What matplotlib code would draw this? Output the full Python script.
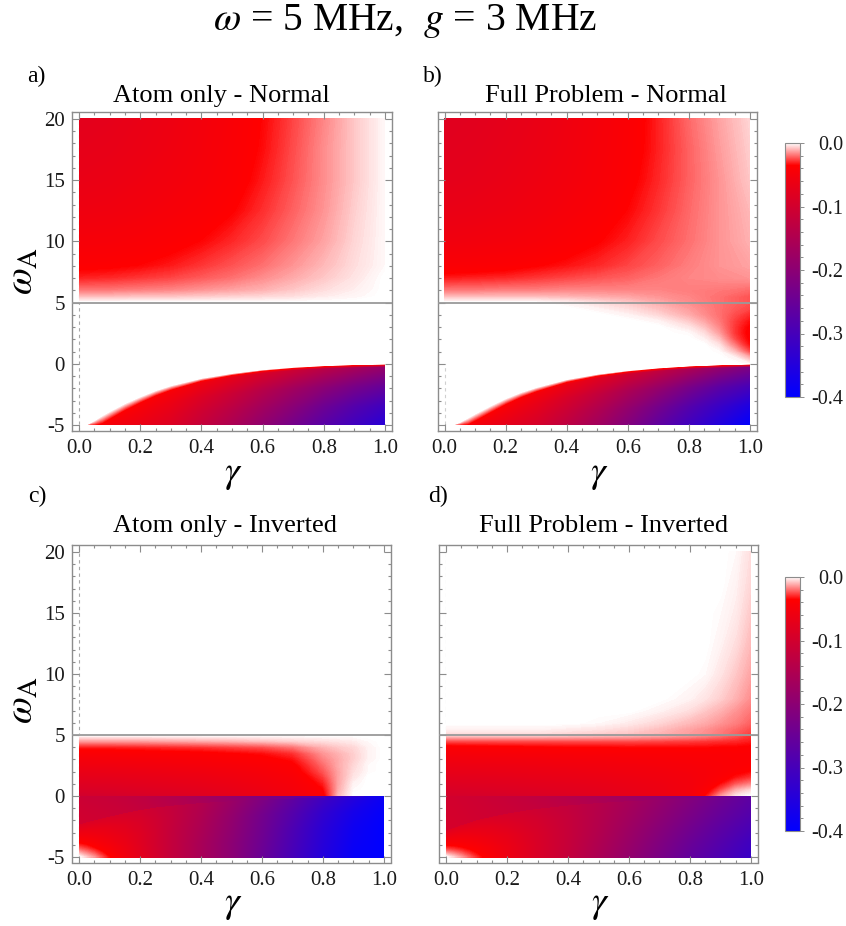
import numpy as np
import matplotlib
matplotlib.use("Agg")
import matplotlib.pyplot as plt
from matplotlib.colors import LinearSegmentedColormap, Normalize
from matplotlib.cm import ScalarMappable
from matplotlib.ticker import MultipleLocator, FormatStrFormatter

plt.rcParams["font.family"] = ["Liberation Serif", "DejaVu Serif"]
plt.rcParams["mathtext.fontset"] = "stix"
plt.rcParams["axes.unicode_minus"] = False

# ---------------------------------------------------------------- data
# sampling grids (gamma across, omega_A up)
GAMMA = [0.0, 0.1, 0.2, 0.3, 0.4, 0.5, 0.6, 0.7, 0.8, 0.9, 1.0]
GAMMA_FINE = [0.0, 0.1, 0.2, 0.3, 0.4, 0.5, 0.6, 0.7, 0.8, 0.85, 0.9, 0.95, 1.0]
GAMMA_EDGE = [0.0, 0.025, 0.05, 0.075, 0.1, 0.15, 0.2, 0.25, 0.3, 0.4, 0.5, 0.6, 0.7, 0.8, 0.9, 1.0]
OMEGA_HIGH = [5.0, 5.5, 6.0, 7.0, 8.0, 10.0, 12.5, 15.0, 17.5, 20.0]
OMEGA_MID = [0.0, 0.5, 1.0, 1.5, 2.0, 2.5, 3.0, 3.5, 4.0, 4.5, 5.0]
OMEGA_MIN = -5.0

# a) atom only, normal ordering -- omega_A > omega  (rows follow OMEGA_HIGH, cols GAMMA)
A_HIGH = [
    [0.0, 0.0, 0.0, 0.0, 0.0, 0.0, 0.0, 0.0, 0.0, 0.0, 0.0],
    [-0.010, -0.010, -0.009, -0.009, -0.008, -0.007, -0.006, -0.005, -0.003, -0.0015, 0.0],
    [-0.019, -0.019, -0.018, -0.017, -0.015, -0.013, -0.011, -0.008, -0.005, -0.0025, 0.0],
    [-0.031, -0.030, -0.028, -0.026, -0.023, -0.020, -0.016, -0.012, -0.008, -0.004, 0.0],
    [-0.038, -0.037, -0.035, -0.032, -0.028, -0.024, -0.020, -0.015, -0.010, -0.005, -0.001],
    [-0.048, -0.046, -0.043, -0.039, -0.035, -0.030, -0.025, -0.019, -0.013, -0.006, -0.001],
    [-0.058, -0.056, -0.052, -0.047, -0.042, -0.036, -0.029, -0.022, -0.015, -0.007, -0.001],
    [-0.066, -0.063, -0.058, -0.053, -0.047, -0.040, -0.032, -0.024, -0.016, -0.008, -0.001],
    [-0.071, -0.068, -0.063, -0.057, -0.050, -0.042, -0.034, -0.025, -0.016, -0.008, -0.001],
    [-0.075, -0.072, -0.066, -0.060, -0.052, -0.044, -0.035, -0.026, -0.017, -0.008, -0.001],
]
# a) omega_A < 0: outer (white) and inner (full colour) rim of the lobe (cols GAMMA_EDGE)
A_OUTER = [-5.0, -4.95, -4.6, -4.2, -3.85, -3.2, -2.65, -2.15, -1.75, -1.15, -0.75, -0.45, -0.25, -0.12, -0.04, 0.0]
A_INNER = [-5.0, -5.0, -5.0, -4.85, -4.5, -3.8, -3.2, -2.65, -2.2, -1.5, -1.05, -0.72, -0.5, -0.36, -0.28, -0.22]
# values on the inner rim, 1/3 and 2/3 of the way down, and at omega_A = -5
A_LOW = [
    [-0.035, -0.035, -0.035, -0.036, -0.037, -0.038, -0.040, -0.042, -0.045, -0.055, -0.070, -0.090, -0.110, -0.135, -0.160, -0.185],
    [-0.035, -0.036, -0.037, -0.039, -0.042, -0.046, -0.050, -0.056, -0.062, -0.085, -0.110, -0.140, -0.170, -0.200, -0.230, -0.255],
    [-0.036, -0.037, -0.039, -0.042, -0.046, -0.052, -0.058, -0.066, -0.075, -0.105, -0.135, -0.170, -0.205, -0.245, -0.280, -0.310],
    [-0.037, -0.038, -0.041, -0.045, -0.050, -0.057, -0.065, -0.075, -0.085, -0.120, -0.155, -0.195, -0.235, -0.275, -0.310, -0.345],
]

# b) full problem, normal ordering
B_HIGH = [
    [0.0, 0.0, 0.0, 0.0, -0.002, -0.005, -0.008, -0.012, -0.016, -0.020, -0.024],
    [-0.010, -0.010, -0.010, -0.010, -0.011, -0.012, -0.013, -0.015, -0.017, -0.020, -0.024],
    [-0.019, -0.019, -0.018, -0.018, -0.017, -0.017, -0.017, -0.017, -0.018, -0.019, -0.021],
    [-0.032, -0.031, -0.030, -0.028, -0.026, -0.024, -0.022, -0.019, -0.017, -0.016, -0.015],
    [-0.042, -0.041, -0.039, -0.036, -0.033, -0.030, -0.026, -0.022, -0.018, -0.015, -0.013],
    [-0.056, -0.053, -0.050, -0.046, -0.041, -0.036, -0.031, -0.025, -0.020, -0.015, -0.011],
    [-0.066, -0.063, -0.059, -0.054, -0.048, -0.042, -0.035, -0.028, -0.021, -0.015, -0.010],
    [-0.073, -0.070, -0.065, -0.059, -0.053, -0.046, -0.038, -0.030, -0.022, -0.015, -0.008],
    [-0.077, -0.074, -0.069, -0.063, -0.056, -0.048, -0.040, -0.031, -0.022, -0.014, -0.007],
    [-0.080, -0.077, -0.072, -0.066, -0.058, -0.050, -0.041, -0.031, -0.021, -0.013, -0.006],
]
# rows follow OMEGA_MID, cols GAMMA_FINE
B_MID = [
    [0, 0, 0, 0, 0, 0, 0, 0, 0, 0, 0, 0, -0.002],
    [0, 0, 0, 0, 0, 0, 0, 0, 0, 0, 0, -0.002, -0.012],
    [0, 0, 0, 0, 0, 0, 0, 0, 0, 0, -0.001, -0.010, -0.026],
    [0, 0, 0, 0, 0, 0, 0, 0, 0, 0, -0.004, -0.018, -0.034],
    [0, 0, 0, 0, 0, 0, 0, 0, 0, -0.002, -0.009, -0.025, -0.037],
    [0, 0, 0, 0, 0, 0, 0, 0, -0.001, -0.005, -0.014, -0.028, -0.038],
    [0, 0, 0, 0, 0, 0, 0, 0, -0.004, -0.009, -0.017, -0.028, -0.037],
    [0, 0, 0, 0, 0, 0, 0, -0.002, -0.008, -0.013, -0.019, -0.027, -0.034],
    [0, 0, 0, 0, 0, 0, -0.002, -0.006, -0.012, -0.016, -0.020, -0.025, -0.030],
    [0, 0, 0, 0, 0, -0.002, -0.005, -0.009, -0.014, -0.017, -0.020, -0.023, -0.026],
    [0, 0, 0, 0, -0.002, -0.005, -0.008, -0.012, -0.016, -0.018, -0.020, -0.022, -0.024],
]
B_OUTER = [-5.0, -5.0, -4.75, -4.4, -4.05, -3.4, -2.8, -2.3, -1.9, -1.25, -0.82, -0.52, -0.3, -0.15, -0.06, 0.0]
B_INNER = [-5.0, -5.0, -5.0, -4.95, -4.65, -4.0, -3.35, -2.8, -2.35, -1.62, -1.12, -0.78, -0.55, -0.38, -0.3, -0.24]
B_LOW = [
    [-0.035, -0.035, -0.035, -0.036, -0.037, -0.039, -0.041, -0.044, -0.048, -0.060, -0.078, -0.100, -0.125, -0.155, -0.190, -0.220],
    [-0.035, -0.036, -0.038, -0.040, -0.043, -0.048, -0.053, -0.060, -0.068, -0.092, -0.120, -0.155, -0.190, -0.230, -0.270, -0.300],
    [-0.036, -0.038, -0.041, -0.044, -0.048, -0.055, -0.063, -0.073, -0.083, -0.113, -0.148, -0.190, -0.235, -0.280, -0.320, -0.360],
    [-0.037, -0.040, -0.044, -0.048, -0.053, -0.062, -0.072, -0.083, -0.095, -0.130, -0.170, -0.215, -0.265, -0.310, -0.355, -0.400],
]

# c) atom only, inverted (nothing above omega)
C_MID = [
    [-0.100, -0.097, -0.092, -0.087, -0.081, -0.073, -0.064, -0.053, -0.040, -0.010, 0, 0, 0],
    [-0.090, -0.088, -0.084, -0.080, -0.075, -0.068, -0.060, -0.050, -0.036, -0.012, -0.001, 0, 0],
    [-0.082, -0.080, -0.077, -0.073, -0.069, -0.063, -0.056, -0.048, -0.032, -0.013, -0.002, 0, 0],
    [-0.074, -0.073, -0.070, -0.067, -0.063, -0.058, -0.052, -0.045, -0.028, -0.013, -0.004, 0, 0],
    [-0.066, -0.065, -0.063, -0.060, -0.057, -0.053, -0.048, -0.041, -0.024, -0.013, -0.005, -0.001, 0],
    [-0.058, -0.057, -0.055, -0.053, -0.050, -0.047, -0.043, -0.038, -0.021, -0.012, -0.006, -0.001, 0],
    [-0.050, -0.049, -0.048, -0.046, -0.044, -0.041, -0.038, -0.034, -0.018, -0.012, -0.007, -0.002, 0],
    [-0.042, -0.041, -0.040, -0.039, -0.038, -0.036, -0.034, -0.029, -0.015, -0.011, -0.007, -0.002, 0],
    [-0.032, -0.032, -0.031, -0.030, -0.029, -0.027, -0.025, -0.020, -0.011, -0.008, -0.006, -0.002, 0],
    [-0.014, -0.014, -0.014, -0.013, -0.012, -0.011, -0.009, -0.007, -0.005, -0.004, -0.003, -0.001, 0],
    [0, 0, 0, 0, 0, 0, 0, 0, 0, 0, 0, 0, 0],
]
# branch seam below omega_A = 0 (cols GAMMA_EDGE)
C_SEAM = [-2.4, -2.22, -2.05, -1.9, -1.75, -1.45, -1.2, -1.0, -0.85, -0.62, -0.47, -0.35, -0.25, -0.17, -0.1, -0.05]
# values at omega_A = 0 and on the upper side of the seam
C_CAP = [
    [-0.110, -0.112, -0.113, -0.115, -0.117, -0.122, -0.128, -0.136, -0.145, -0.165, -0.190, -0.220, -0.250, -0.290, -0.330, -0.370],
    [-0.100, -0.102, -0.104, -0.106, -0.108, -0.113, -0.120, -0.128, -0.137, -0.157, -0.182, -0.212, -0.245, -0.285, -0.325, -0.365],
]
# values from the lower side of the seam down to omega_A = -5 in quarter steps
C_BASE = [
    [-0.085, -0.086, -0.088, -0.089, -0.090, -0.095, -0.100, -0.110, -0.120, -0.145, -0.180, -0.220, -0.265, -0.310, -0.350, -0.385],
    [-0.060, -0.062, -0.065, -0.068, -0.072, -0.080, -0.090, -0.103, -0.118, -0.150, -0.190, -0.235, -0.280, -0.330, -0.370, -0.395],
    [-0.040, -0.045, -0.050, -0.055, -0.060, -0.070, -0.083, -0.100, -0.120, -0.155, -0.195, -0.240, -0.290, -0.340, -0.380, -0.400],
    [-0.022, -0.028, -0.035, -0.042, -0.048, -0.062, -0.080, -0.100, -0.120, -0.160, -0.200, -0.245, -0.295, -0.345, -0.385, -0.400],
    [0.000, -0.008, -0.015, -0.025, -0.035, -0.055, -0.075, -0.097, -0.120, -0.160, -0.200, -0.250, -0.300, -0.350, -0.390, -0.400],
]

# d) full problem, inverted
D_HIGH = [
    [-0.006, -0.006, -0.006, -0.006, -0.007, -0.008, -0.009, -0.011, -0.014, -0.016, -0.019, -0.023, -0.028],
    [-0.002, -0.002, -0.002, -0.002, -0.003, -0.004, -0.006, -0.009, -0.013, -0.015, -0.018, -0.021, -0.025],
    [0, 0, 0, 0, 0, -0.001, -0.003, -0.006, -0.010, -0.012, -0.015, -0.018, -0.022],
    [0, 0, 0, 0, 0, 0, 0, -0.002, -0.005, -0.008, -0.011, -0.015, -0.019],
    [0, 0, 0, 0, 0, 0, 0, 0, -0.002, -0.004, -0.007, -0.011, -0.016],
    [0, 0, 0, 0, 0, 0, 0, 0, 0, -0.001, -0.004, -0.008, -0.013],
    [0, 0, 0, 0, 0, 0, 0, 0, 0, 0, -0.002, -0.005, -0.010],
    [0, 0, 0, 0, 0, 0, 0, 0, 0, 0, -0.001, -0.003, -0.008],
    [0, 0, 0, 0, 0, 0, 0, 0, 0, 0, 0, -0.002, -0.006],
    [0, 0, 0, 0, 0, 0, 0, 0, 0, 0, 0, -0.001, -0.005],
]
D_MID = [
    [-0.097, -0.095, -0.092, -0.088, -0.083, -0.077, -0.070, -0.063, -0.052, -0.035, -0.015, -0.004, 0.0],
    [-0.090, -0.088, -0.085, -0.082, -0.078, -0.073, -0.067, -0.061, -0.052, -0.041, -0.026, -0.012, -0.006],
    [-0.083, -0.081, -0.079, -0.076, -0.073, -0.069, -0.064, -0.059, -0.052, -0.045, -0.035, -0.024, -0.018],
    [-0.076, -0.075, -0.073, -0.070, -0.067, -0.064, -0.060, -0.056, -0.051, -0.046, -0.040, -0.033, -0.028],
    [-0.069, -0.068, -0.066, -0.064, -0.062, -0.059, -0.056, -0.053, -0.049, -0.046, -0.042, -0.038, -0.035],
    [-0.062, -0.061, -0.060, -0.058, -0.056, -0.054, -0.052, -0.049, -0.046, -0.044, -0.042, -0.040, -0.038],
    [-0.055, -0.054, -0.053, -0.052, -0.050, -0.049, -0.047, -0.045, -0.043, -0.042, -0.041, -0.040, -0.039],
    [-0.048, -0.047, -0.046, -0.045, -0.044, -0.043, -0.042, -0.041, -0.040, -0.040, -0.040, -0.039, -0.039],
    [-0.040, -0.039, -0.038, -0.037, -0.036, -0.036, -0.035, -0.035, -0.035, -0.035, -0.036, -0.036, -0.037],
    [-0.025, -0.025, -0.025, -0.025, -0.025, -0.025, -0.025, -0.026, -0.027, -0.028, -0.029, -0.030, -0.032],
    [-0.006, -0.006, -0.006, -0.006, -0.007, -0.008, -0.009, -0.011, -0.014, -0.016, -0.019, -0.023, -0.028],
]
D_SEAM = [-2.9, -2.67, -2.45, -2.25, -2.05, -1.75, -1.5, -1.28, -1.1, -0.82, -0.62, -0.47, -0.35, -0.25, -0.16, -0.08]
D_CAP = [
    [-0.100, -0.101, -0.103, -0.105, -0.107, -0.112, -0.117, -0.122, -0.128, -0.142, -0.158, -0.178, -0.200, -0.225, -0.250, -0.275],
    [-0.095, -0.096, -0.098, -0.100, -0.102, -0.106, -0.110, -0.115, -0.120, -0.133, -0.150, -0.170, -0.192, -0.218, -0.245, -0.270],
]
D_BASE = [
    [-0.080, -0.081, -0.082, -0.084, -0.085, -0.090, -0.095, -0.100, -0.107, -0.122, -0.140, -0.162, -0.187, -0.214, -0.242, -0.268],
    [-0.058, -0.060, -0.062, -0.065, -0.068, -0.074, -0.082, -0.090, -0.098, -0.118, -0.142, -0.168, -0.196, -0.225, -0.254, -0.280],
    [-0.040, -0.043, -0.046, -0.050, -0.054, -0.062, -0.070, -0.081, -0.092, -0.117, -0.145, -0.176, -0.207, -0.238, -0.268, -0.295],
    [-0.022, -0.027, -0.032, -0.037, -0.042, -0.052, -0.063, -0.076, -0.090, -0.118, -0.150, -0.183, -0.217, -0.250, -0.280, -0.310],
    [0.000, -0.007, -0.014, -0.022, -0.030, -0.045, -0.060, -0.075, -0.090, -0.120, -0.155, -0.190, -0.225, -0.260, -0.290, -0.320],
]

TITLES = ["Atom only - Normal", "Full Problem - Normal",
          "Atom only - Inverted", "Full Problem - Inverted"]
TAGS = ["a)", "b)", "c)", "d)"]
CBAR_TICKS = [0.0, -0.1, -0.2, -0.3, -0.4]

# ---------------------------------------------------------------- style
W, H = 846, 926
VMIN, VMAX = -0.4, 0.0
RED_LEVEL = -0.035
cmap = LinearSegmentedColormap.from_list(
    "white_red_blue",
    [(0.0, (0.0, 0.0, 1.0)),
     ((RED_LEVEL - VMIN) / (VMAX - VMIN), (1.0, 0.0, 0.0)),
     (1.0, (1.0, 1.0, 1.0))], N=1024)
norm = Normalize(VMIN, VMAX)
LEVELS = np.linspace(VMIN - 1e-6, VMAX + 1e-6, 801)
FRAME = "#8c8c8c"

fig = plt.figure(figsize=(W / 100, H / 100), dpi=100)


def fx(x):
    return x / W


def fy(y):
    return 1 - y / H


def add_box(l, t, r, b):
    return fig.add_axes([fx(l), fy(b), (r - l) / W, (b - t) / H])


def shade(ax, X, Y, C):
    ax.contourf(np.asarray(X, float), np.asarray(Y, float), np.asarray(C, float),
                levels=LEVELS, cmap=cmap, norm=norm, antialiased=False, zorder=1)


def rect(ax, gam, om, vals):
    X, Y = np.meshgrid(gam, om)
    shade(ax, X, Y, vals)


def lobe(ax, outer, inner, vals):
    # coloured lobe hanging below a soft curved rim, down to omega_A = -5
    outer = np.asarray(outer, float)
    inner = np.asarray(inner, float)
    rows = [outer, inner]
    for t in (1 / 3, 2 / 3, 1.0):
        rows.append(inner + (OMEGA_MIN - inner) * t)
    C = np.vstack([np.zeros_like(outer), np.asarray(vals, float)])
    X = np.tile(GAMMA_EDGE, (len(rows), 1))
    shade(ax, X, np.vstack(rows), C)


def split_floor(ax, seam, cap, base):
    # omega_A in [-5, 0] with a seam between two branches
    seam = np.asarray(seam, float)
    top_rows = np.vstack([np.zeros_like(seam), seam])
    shade(ax, np.tile(GAMMA_EDGE, (2, 1)), top_rows, cap)
    ts = np.linspace(0, 1, len(base))
    low_rows = np.vstack([seam + (OMEGA_MIN - seam) * t for t in ts])
    shade(ax, np.tile(GAMMA_EDGE, (len(base), 1)), low_rows, base)


def style(ax, left_labels, dash_color):
    ax.set_xlim(-0.023, 1.023)
    ax.set_ylim(-5.45, 20.57)
    ax.xaxis.set_major_locator(MultipleLocator(0.2))
    ax.xaxis.set_minor_locator(MultipleLocator(0.05))
    ax.yaxis.set_major_locator(MultipleLocator(5))
    ax.yaxis.set_minor_locator(MultipleLocator(1))
    ax.xaxis.set_major_formatter(FormatStrFormatter("%.1f"))
    ax.yaxis.set_major_formatter(FormatStrFormatter("%d"))
    ax.tick_params(which="both", direction="in", top=True, right=True,
                   color=FRAME, width=0.8, labelsize=15, labelcolor="#1a1a1a")
    ax.tick_params(which="major", length=5)
    ax.tick_params(which="minor", length=2.5)
    ax.tick_params(axis="x", pad=6)
    ax.tick_params(axis="y", pad=5, labelleft=left_labels)
    for sp in ax.spines.values():
        sp.set_color(FRAME)
        sp.set_linewidth(1.0)
    ax.axvline(0, color=dash_color, lw=0.8, ls=(0, (3, 3)), zorder=0.5)
    ax.axhline(5, color="#9a9a9a", lw=1.3, zorder=3)


BOXES = [(72, 112, 392, 430.5), (437.5, 112, 757, 430.5),
         (72, 545, 391, 862.5), (439, 545, 758, 862.5)]
axes = [add_box(*b) for b in BOXES]

# a)
rect(axes[0], GAMMA, OMEGA_HIGH, A_HIGH)
lobe(axes[0], A_OUTER, A_INNER, A_LOW)
# b)
rect(axes[1], GAMMA, OMEGA_HIGH, B_HIGH)
rect(axes[1], GAMMA_FINE, OMEGA_MID, B_MID)
lobe(axes[1], B_OUTER, B_INNER, B_LOW)
# c)
rect(axes[2], GAMMA_FINE, OMEGA_MID, C_MID)
split_floor(axes[2], C_SEAM, C_CAP, C_BASE)
# d)
rect(axes[3], GAMMA_FINE, OMEGA_HIGH, D_HIGH)
rect(axes[3], GAMMA_FINE, OMEGA_MID, D_MID)
split_floor(axes[3], D_SEAM, D_CAP, D_BASE)

for i, ax in enumerate(axes):
    style(ax, left_labels=(i % 2 == 0), dash_color="#a8a8a8" if i % 2 == 0 else "#d0d0d0")

# colour bars
for top in (143, 577):
    cax = add_box(785, top, 800, top + 254)
    cb = fig.colorbar(ScalarMappable(norm=norm, cmap=cmap), cax=cax)
    cb.set_ticks(CBAR_TICKS)
    cb.ax.yaxis.set_major_formatter(FormatStrFormatter("%.1f"))
    cb.ax.yaxis.set_minor_locator(MultipleLocator(0.02))
    cb.outline.set_edgecolor(FRAME)
    cb.outline.set_linewidth(0.8)
    cb.ax.tick_params(which="both", color=FRAME, width=0.7, labelsize=14.5,
                      labelcolor="#1a1a1a", direction="out")
    cb.ax.tick_params(which="major", length=3, pad=28)
    cb.ax.tick_params(which="minor", length=2)
    for lab in cb.ax.get_yticklabels():
        lab.set_horizontalalignment("right")

# text
fig.text(fx(405), fy(30), r"$\omega$ = 5 MHz,  $g$ = 3 MHz",
         ha="center", va="baseline", size=28.5)
title_pos = [(221, 101.7), (605.5, 101.7), (224.5, 532.3), (604, 532.3)]
tag_pos = [(27.3, 82), (423.3, 82), (28.3, 501.7), (428.3, 501.7)]
gamma_pos = [(233, 482), (599, 482), (233, 912), (600, 912)]
for i in range(4):
    fig.text(fx(title_pos[i][0]), fy(title_pos[i][1]), TITLES[i],
             ha="center", va="baseline", size=19)
    fig.text(fx(tag_pos[i][0]), fy(tag_pos[i][1]), TAGS[i],
             ha="left", va="baseline", size=17)
    fig.text(fx(gamma_pos[i][0]), fy(gamma_pos[i][1]), r"$\gamma$",
             ha="center", va="baseline", size=27)
for yc in (271, 700):
    fig.text(fx(23), fy(yc), r"$\omega_{\mathrm{A}}$", rotation=90,
             ha="center", va="center", size=28)

fig.savefig("out.png", dpi=100)
